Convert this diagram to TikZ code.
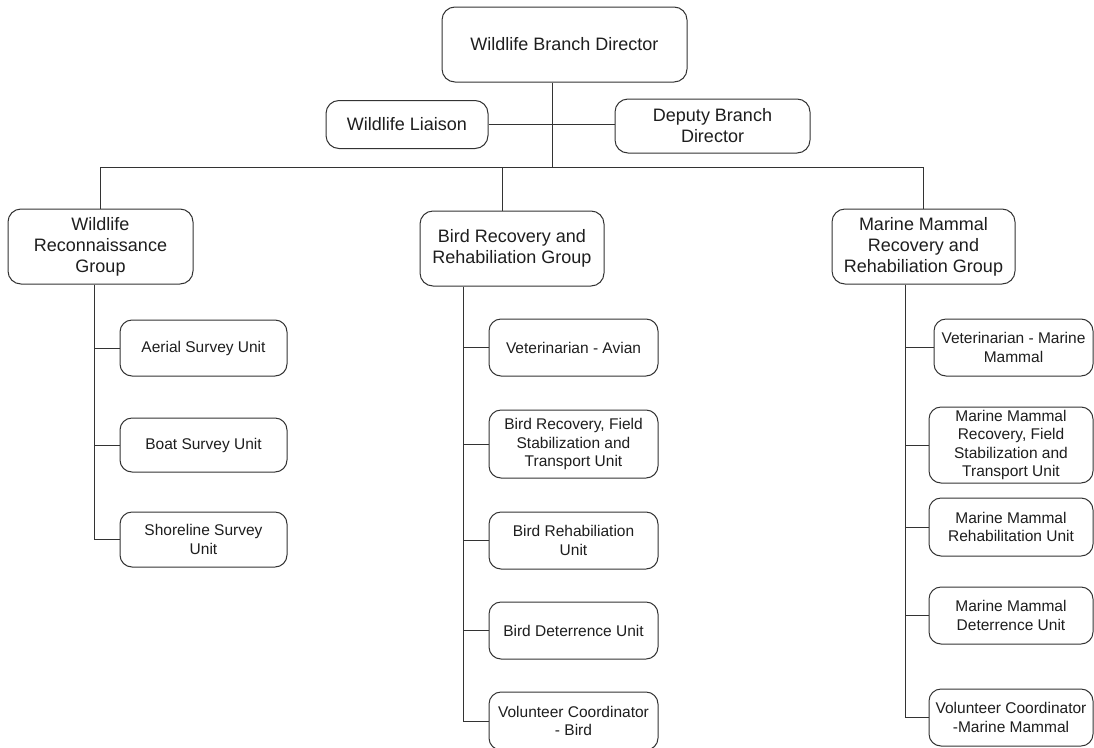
\documentclass[tikz,border=0pt]{standalone}
\usepackage{fontspec}
\setmainfont{Liberation Sans}
\definecolor{edge}{HTML}{333333}
\definecolor{txt}{HTML}{1E1E1E}
\tikzset{
  box/.style={draw=edge, line width=1pt, rounded corners=13pt, fill=white,
    text=txt, align=center, inner sep=0pt, anchor=center},
  big/.style={box, font=\fontsize{18}{21}\selectfont},
  small/.style={box, font=\fontsize{15.5}{18.5}\selectfont, rounded corners=12pt},
  link/.style={draw=edge, line width=1pt}
}
\begin{document}
\begin{tikzpicture}[x=1pt,y=-1pt]
\path[use as bounding box] (0,0) rectangle (1094,747);
\clip (0,0) rectangle (1094,747);
\fill[white] (0,0) rectangle (1094,747);

% top level
\node[big, minimum width=245pt, minimum height=75pt] (dir) at (564.5,44.5) {Wildlife Branch Director};
\node[big, minimum width=162pt, minimum height=48pt] (liaison) at (407,124.5) {Wildlife Liaison};
\node[big, minimum width=195pt, minimum height=54pt] (deputy) at (712.5,126) {Deputy Branch\\Director};

% groups
\node[big, minimum width=185pt, minimum height=75pt] (recon) at (100.5,246.5) {Wildlife\\Reconnaissance\\Group};
\node[big, minimum width=184pt, minimum height=75pt] (bird) at (512,248.5) {Bird Recovery and\\Rehabiliation Group};
\node[big, minimum width=183pt, minimum height=75pt] (mm) at (923.5,246.5) {Marine Mammal\\Recovery and\\Rehabiliation Group};

% recon units
\node[small, minimum width=167pt, minimum height=56pt] (aerial) at (203.5,348) {Aerial Survey Unit};
\node[small, minimum width=167pt, minimum height=54pt] (boat) at (203.5,445) {Boat Survey Unit};
\node[small, minimum width=167pt, minimum height=55pt] (shore) at (203.5,539.5) {Shoreline Survey\\Unit};

% bird units
\node[small, minimum width=169pt, minimum height=57pt] (vetav) at (573.5,347.5) {Veterinarian - Avian};
\node[small, minimum width=169pt, minimum height=68pt] (birdrec) at (573.5,444) {Bird Recovery, Field\\Stabilization and\\Transport Unit};
\node[small, minimum width=169pt, minimum height=57pt] (birdreh) at (573.5,540.5) {Bird Rehabiliation\\Unit};
\node[small, minimum width=169pt, minimum height=57pt] (birddet) at (573.5,630.5) {Bird Deterrence Unit};
\node[small, minimum width=169pt, minimum height=58pt] (volbird) at (573.5,721) {Volunteer Coordinator\\- Bird};

% marine mammal units
\node[small, minimum width=159pt, minimum height=57pt] (vetmm) at (1013.5,347.5) {Veterinarian - Marine\\Mammal};
\node[small, minimum width=164pt, minimum height=76pt] (mmrec) at (1011,445) {Marine Mammal\\Recovery, Field\\Stabilization and\\Transport Unit};
\node[small, minimum width=164pt, minimum height=58pt] (mmreh) at (1011,527) {Marine Mammal\\Rehabilitation Unit};
\node[small, minimum width=164pt, minimum height=57pt] (mmdet) at (1011,615.5) {Marine Mammal\\Deterrence Unit};
\node[small, minimum width=164pt, minimum height=57pt] (volmm) at (1011,717.5) {Volunteer Coordinator\\-Marine Mammal};

% helper coordinates
\coordinate (dtx) at (552,0);
\coordinate (busy) at (0,167);
\coordinate (rsp) at (94,0);
\coordinate (bsp) at (463,0);
\coordinate (msp) at (905,0);
\coordinate (rtop) at (100,0);
\coordinate (btop) at (502,0);
\coordinate (mtop) at (923,0);

% top connectors
\draw[link] (dir.south -| dtx) -- (busy -| dtx);
\draw[link] (liaison.east) -- (liaison.east -| deputy.west);
\draw[link] (busy -| rtop) -- (busy -| mtop);
\draw[link] (busy -| rtop) -- (recon.north -| rtop);
\draw[link] (busy -| btop) -- (bird.north -| btop);
\draw[link] (busy -| mtop) -- (mm.north -| mtop);

% recon spine
\draw[link] (recon.south -| rsp) |- (shore.west);
\draw[link] (aerial.west) -- (aerial.west -| rsp);
\draw[link] (boat.west) -- (boat.west -| rsp);

% bird spine
\draw[link] (bird.south -| bsp) |- (volbird.west);
\draw[link] (vetav.west) -- (vetav.west -| bsp);
\draw[link] (birdrec.west) -- (birdrec.west -| bsp);
\draw[link] (birdreh.west) -- (birdreh.west -| bsp);
\draw[link] (birddet.west) -- (birddet.west -| bsp);

% mm spine
\draw[link] (mm.south -| msp) |- (volmm.west);
\draw[link] (vetmm.west) -- (vetmm.west -| msp);
\draw[link] (mmrec.west) -- (mmrec.west -| msp);
\draw[link] (mmreh.west) -- (mmreh.west -| msp);
\draw[link] (mmdet.west) -- (mmdet.west -| msp);
\end{tikzpicture}
\end{document}
